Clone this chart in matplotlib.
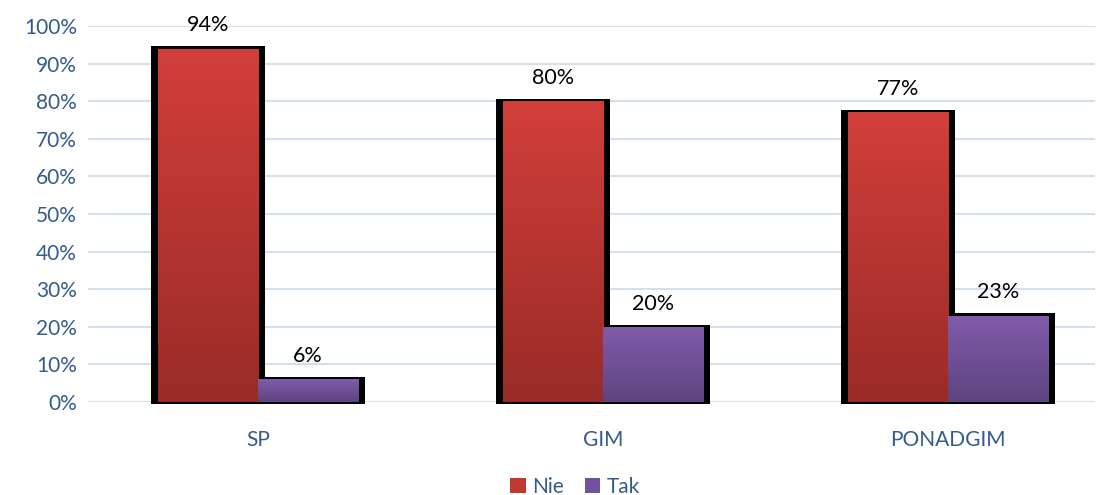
import matplotlib
matplotlib.use("Agg")
import matplotlib.pyplot as plt
import numpy as np
from matplotlib.colors import LinearSegmentedColormap
from matplotlib.patches import Patch

categories = ["SP", "GIM", "PONADGIM"]
nie = [0.94, 0.80, 0.77]
tak = [0.06, 0.20, 0.23]
series_names = ["Nie", "Tak"]
yticks = [0, 0.1, 0.2, 0.3, 0.4, 0.5, 0.6, 0.7, 0.8, 0.9, 1.0]
ytick_labels = ["0%", "10%", "20%", "30%", "40%", "50%", "60%", "70%", "80%", "90%", "100%"]

plt.rcParams['font.family'] = ['Lato', 'DejaVu Sans']

fig = plt.figure(figsize=(11.1, 4.95), dpi=100)
ax = fig.add_axes([88/1110, 1-402/495, 1007/1110, 376/495])

x = np.arange(len(categories))
w = 0.29
pad = 0.02

red_top, red_bot = "#D23F3A", "#992B27"
pur_top, pur_bot = "#805BAA", "#5E4480"
tick_color = "#335C8C"

for yt in yticks:
    ax.axhline(yt, color="#D5E0EE", lw=1.5, zorder=0)

# shadows
for xs, vals in ((x - w/2, nie), (x + w/2, tak)):
    ax.bar(xs, [v + 0.012 for v in vals], width=w + 2*pad, bottom=-0.006,
           color="black", zorder=1, clip_on=False)

def grad_bars(xs, vals, ctop, cbot, label):
    bars = ax.bar(xs, vals, width=w, color=ctop, zorder=2, label=label)
    cmap = LinearSegmentedColormap.from_list("g", [cbot, ctop])
    grad = np.linspace(0, 1, 256).reshape(-1, 1)
    for b in bars:
        x0 = b.get_x(); x1 = x0 + b.get_width(); h = b.get_height()
        im = ax.imshow(grad, extent=[x0, x1, 0, h], origin="lower", cmap=cmap,
                       aspect="auto", zorder=3)
        im.set_clip_path(b)
    return bars

grad_bars(x - w/2, nie, red_top, red_bot, series_names[0])
grad_bars(x + w/2, tak, pur_top, pur_bot, series_names[1])
ax.set_xlim(-0.493, 2.425)
ax.set_ylim(0, 1.0)

for xs, vals in ((x - w/2, nie), (x + w/2, tak)):
    for xi, v in zip(xs, vals):
        ax.text(xi, v + 0.035, f"{round(v*100)}%", ha="center", va="bottom",
                fontsize=15.5, color="black", zorder=5)

ax.set_yticks(yticks)
ax.set_yticklabels(ytick_labels, fontsize=15, color=tick_color)
ax.set_xticks(x)
ax.set_xticklabels(categories, fontsize=15, color=tick_color)
ax.tick_params(axis="both", length=0, pad=8)
ax.tick_params(axis="x", pad=20)
for s in ax.spines.values():
    s.set_visible(False)

handles = [Patch(facecolor="#C0392F"), Patch(facecolor="#7353A0")]
fig.legend(handles, series_names, loc="center", bbox_to_anchor=(575/1110, 1-487/495),
           ncol=2, frameon=False, fontsize=15, handlelength=0.75, handleheight=0.75,
           handletextpad=0.3, columnspacing=1.0, labelcolor=tick_color)

fig.savefig("out.png", dpi=100)
